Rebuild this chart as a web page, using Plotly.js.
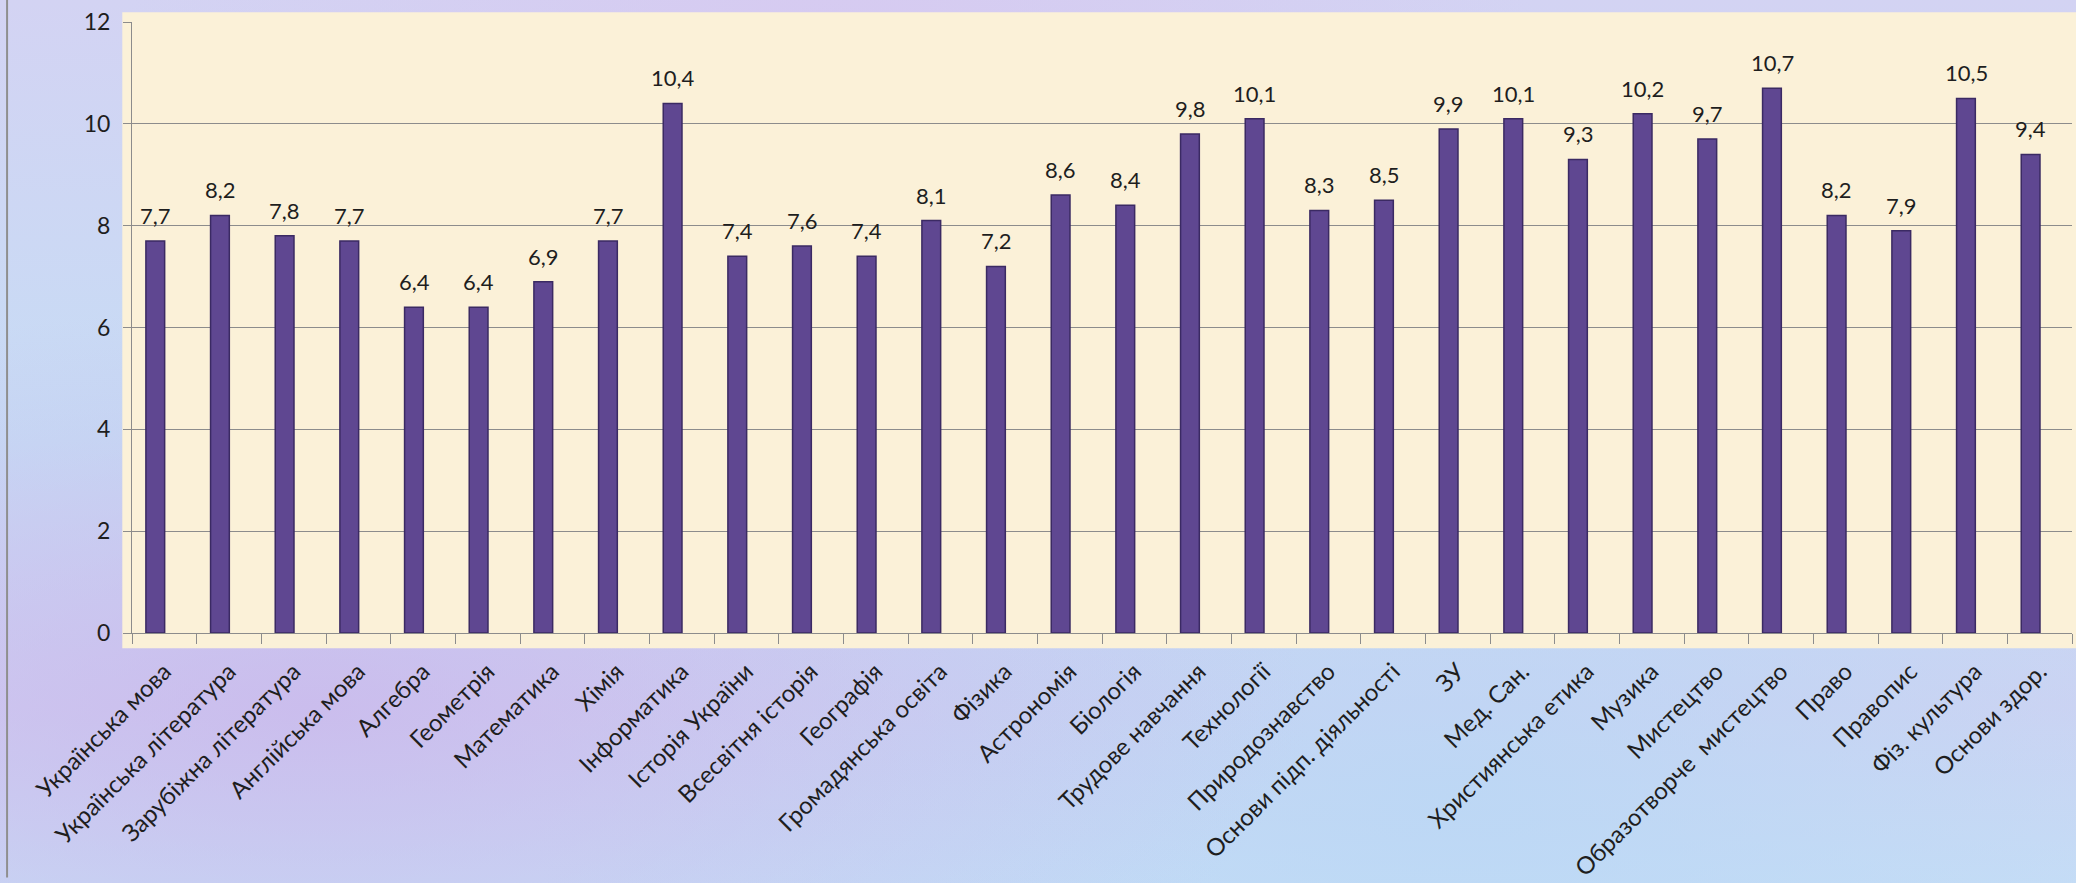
<!DOCTYPE html>
<html>
<head>
<meta charset="utf-8">
<script src="https://cdn.plot.ly/plotly-3.0.1.min.js"></script>
<style>
html,body{margin:0;padding:0;}
body{width:2076px;height:883px;overflow:hidden;
background:
 radial-gradient(ellipse at 15% 80%, rgba(200,180,235,0.7), rgba(200,180,235,0) 40%),
 radial-gradient(ellipse at 70% 90%, rgba(185,215,245,0.8), rgba(185,215,245,0) 45%),
 radial-gradient(ellipse at 40% 5%, rgba(215,200,240,0.8), rgba(215,200,240,0) 40%),
 linear-gradient(180deg,#d3d3f3 0%,#c6dcf5 50%,#d0d2f2 80%,#c8def6 100%);}
#chart{width:2076px;height:883px;}
</style>
</head>
<body>
<div id="chart"></div>
<script>
const categories = [
 "Українська мова","Українська література","Зарубіжна література","Англійська мова",
 "Алгебра","Геометрія","Математика","Хімія","Інформатика","Історія України",
 "Всесвітня історія","Географія","Громадянська освіта","Фізика","Астрономія",
 "Біологія","Трудове навчання","Технології","Природознавство","Основи підп. діяльності",
 "ЗУ","Мед. Сан.","Християнська етика","Музика","Мистецтво",
 "Образотворче  мистецтво","Право","Правопис","Фіз. культура","Основи здор."
];
const values = [7.7,8.2,7.8,7.7,6.4,6.4,6.9,7.7,10.4,7.4,7.6,7.4,8.1,7.2,8.6,8.4,9.8,10.1,8.3,8.5,9.9,10.1,9.3,10.2,9.7,10.7,8.2,7.9,10.5,9.4];
const yTicks = [0,2,4,6,8,10,12];

const labels = values.map(v => v.toFixed(1).replace('.', ','));

const trace = {
  type: 'bar',
  x: categories,
  y: values,
  width: 0.29,
  offset: -0.285,
  cliponaxis: false,
  marker: {color: '#5f4791', line: {color: '#3b2a63', width: 1.5}},
  hoverinfo: 'x+y'
};

const valueAnnotations = categories.map((c, i) => ({
  x: c, y: values[i], xref: 'x', yref: 'y',
  text: labels[i], showarrow: false,
  yanchor: 'bottom', yshift: 10, xshift: -9,
  font: {family: 'Lato, sans-serif', size: 22, color: '#1e1e1e'}
}));

const layout = {
  width: 2076, height: 883,
  margin: {l: 132, r: 4, t: 22, b: 250},
  paper_bgcolor: 'rgba(0,0,0,0)',
  plot_bgcolor: 'rgba(0,0,0,0)',
  showlegend: false,
  font: {family: 'Lato, sans-serif', color: '#1e1e1e'},
  xaxis: {
    type: 'category',
    tickangle: -45,
    tickfont: {family: 'Lato, sans-serif', size: 24, color: '#1e1e1e'},
    ticks: 'outside', ticklen: 10, tickcolor: '#8c8c8c', tickwidth: 1,
    tickson: 'boundaries',
    showline: true, linecolor: '#8c8c8c', linewidth: 1,
    showgrid: false, zeroline: false,
    ticklabelstandoff: 14
  },
  yaxis: {
    range: [0, 12],
    tickvals: yTicks,
    ticktext: yTicks.map(String),
    tickfont: {family: 'Lato, sans-serif', size: 23, color: '#1e1e1e'},
    ticks: 'outside', ticklen: 8, tickcolor: '#8c8c8c',
    showline: true, linecolor: '#8c8c8c', linewidth: 1,
    showgrid: true, gridcolor: '#8c8c8c', gridwidth: 1,
    zeroline: false,
    ticklabelstandoff: 8
  },
  annotations: valueAnnotations,
  shapes: [
    {type: 'rect', xref: 'paper', yref: 'paper', x0: -0.005, x1: 1.01, y0: -0.025, y1: 1.016,
     fillcolor: '#fbf1d8', line: {width: 0}, layer: 'below'},
    {type: 'line', xref: 'paper', yref: 'paper', x0: -0.0644, x1: -0.0644, y0: -0.4, y1: 1.04,
     line: {color: '#8f8f8f', width: 2}}
  ]
};

Plotly.newPlot('chart', [trace], layout, {displayModeBar: false, staticPlot: true});
</script>
</body>
</html>
